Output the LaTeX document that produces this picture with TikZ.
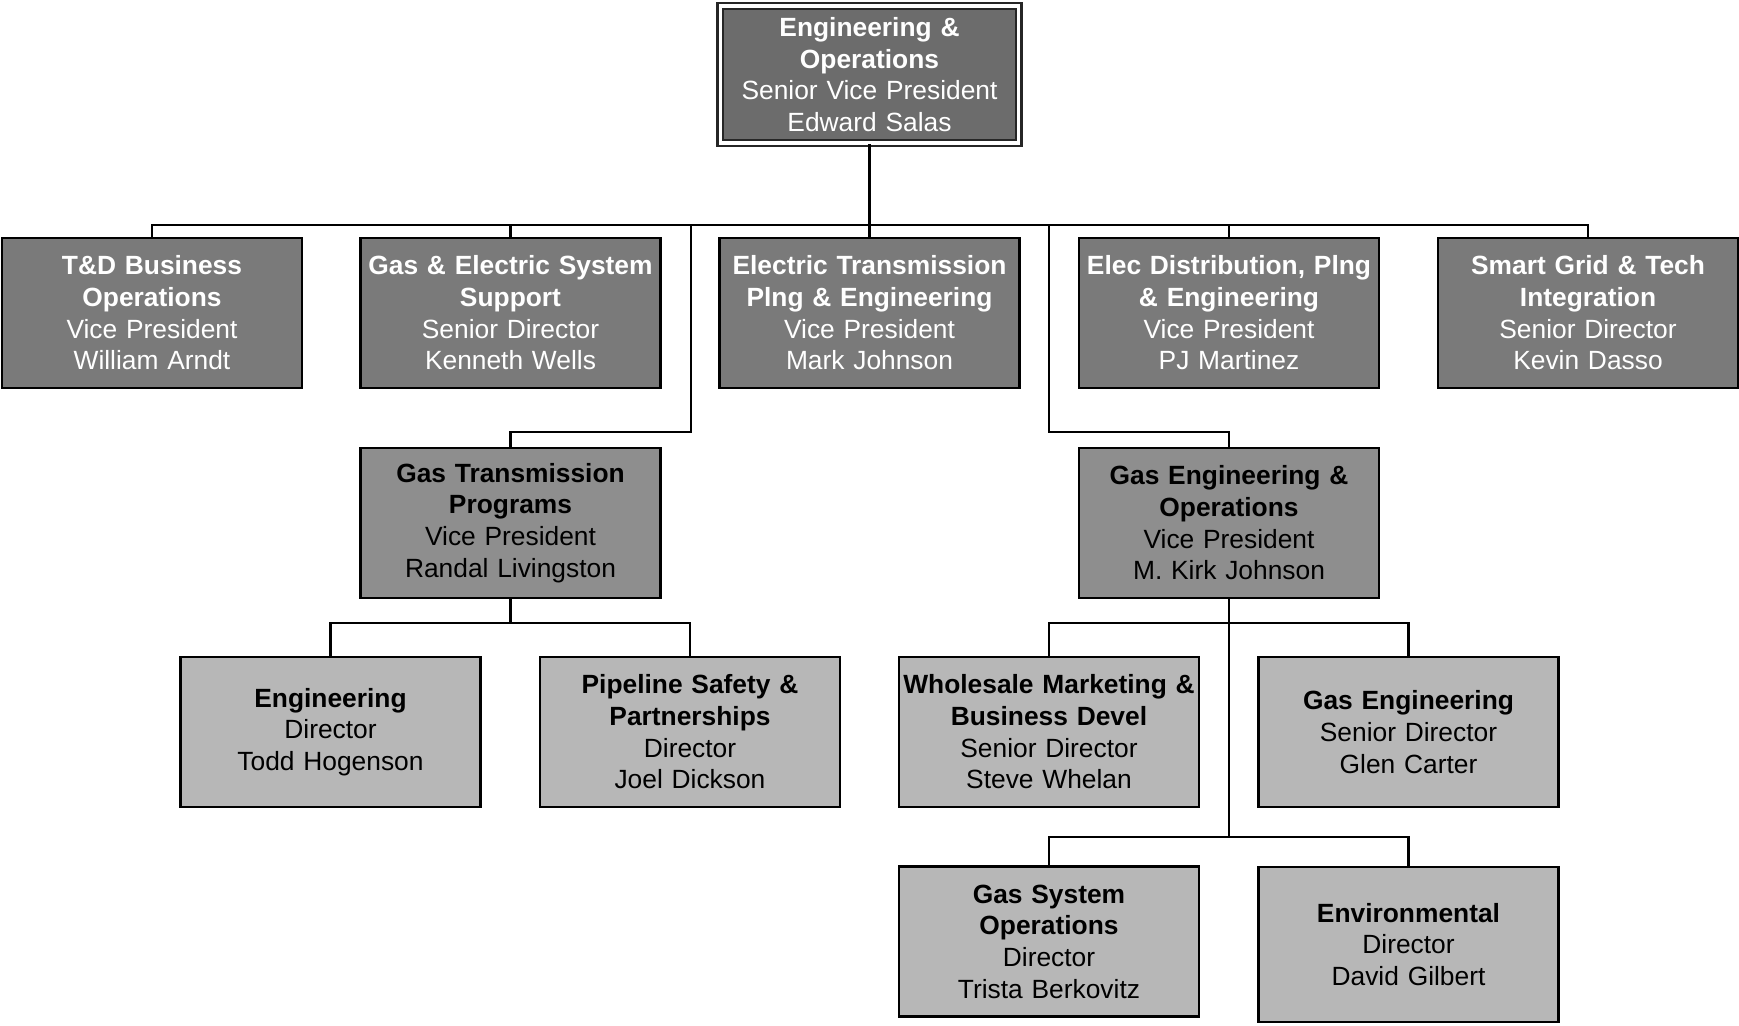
\documentclass[tikz,border=0pt]{standalone}
\usepackage{fontspec}
\setmainfont{Liberation Sans}
\usepackage{xcolor}
\usepackage{tikz}
\definecolor{grisfonce}{HTML}{6C6C6C}
\definecolor{grismoyen}{HTML}{7A7A7A}
\definecolor{grisclair}{HTML}{8E8E8E}
\definecolor{grispale}{HTML}{B7B7B7}
\tikzstyle{poste} = [rectangle,
minimum width=6cm,
minimum height=3cm,
text width=5.9cm,
inner sep=1pt,
align=center,
font=\fontsize{15}{18}\selectfont,
line width=1.2pt,
draw=black]
\tikzstyle{chef} = [poste, fill=grisfonce, text=white, draw=gray!30!black,
double=white, double distance=2pt, minimum width=5.75cm, minimum height=2.75cm]
\tikzstyle{vp} = [poste, fill=grismoyen, text=white]
\tikzstyle{vpbis} = [poste, fill=grisclair, text=black]
\tikzstyle{dir} = [poste, fill=grispale, text=black]
\tikzstyle{lien} = [line width=1.3pt, draw=black]

\begin{document}
\begin{tikzpicture}[x=0.02cm, y=-0.02cm]
\useasboundingbox (0,0) rectangle (1739,1026);

% Sommet
\node[chef] (eo) at (869.5,74.5) {\textbf{Engineering \&\\Operations}\\Senior Vice President\\Edward Salas};

% Deuxieme niveau
\node[vp] (td) at (152,313) {\textbf{T\&D Business\\Operations}\\Vice President\\William Arndt};
\node[vp] (gess) at (510.5,313) {\textbf{Gas \& Electric System\\Support}\\Senior Director\\Kenneth Wells};
\node[vp] (etpe) at (869.5,313) {\textbf{Electric Transmission\\Plng \& Engineering}\\Vice President\\Mark Johnson};
\node[vp] (edpe) at (1229,313) {\textbf{Elec Distribution, Plng\\\& Engineering}\\Vice President\\PJ Martinez};
\node[vp] (sgti) at (1588,313) {\textbf{Smart Grid \& Tech\\Integration}\\Senior Director\\Kevin Dasso};

% Troisieme niveau
\node[vpbis] (gtp) at (510.5,523) {\textbf{Gas Transmission\\Programs}\\Vice President\\Randal Livingston};
\node[vpbis] (geo) at (1229,523) {\textbf{Gas Engineering \&\\Operations}\\Vice President\\M. Kirk Johnson};

% Directeurs
\node[dir] (eng) at (330.5,732) {\textbf{Engineering}\\Director\\Todd Hogenson};
\node[dir] (pipe) at (690,732) {\textbf{Pipeline Safety \&\\Partnerships}\\Director\\Joel Dickson};
\node[dir] (wmbd) at (1049,732) {\textbf{Wholesale Marketing \&\\Business Devel}\\Senior Director\\Steve Whelan};
\node[dir] (geng) at (1408.5,732) {\textbf{Gas Engineering}\\Senior Director\\Glen Carter};
\node[dir] (gso) at (1049,941.5) {\textbf{Gas System\\Operations}\\Director\\Trista Berkovitz};
\node[dir, minimum height=3.1cm] (env) at (1408.5,944.5) {\textbf{Environmental}\\Director\\David Gilbert};

% Barres horizontales
\coordinate (barre) at (0,225);
\coordinate (coudeg) at (691,432);
\coordinate (couded) at (1049,432);
\coordinate (barreg) at (0,623);
\coordinate (barred) at (0,623);
\coordinate (barrebas) at (0,837);

% Liens du sommet
\draw[lien] (eo.south) -- (eo.south |- barre);
\draw[lien] (td.north) -- (td.north |- barre) -- (sgti.north |- barre) -- (sgti.north);
\draw[lien] (gess.north) -- (gess.north |- barre);
\draw[lien] (etpe.north) -- (etpe.north |- barre);
\draw[lien] (edpe.north) -- (edpe.north |- barre);

% Branches vers le troisieme niveau
\draw[lien] (gtp.north) -- (gtp.north |- coudeg) -- (coudeg) -- (coudeg |- barre);
\draw[lien] (geo.north) -- (geo.north |- couded) -- (couded) -- (couded |- barre);

% Sous Gas Transmission
\draw[lien] (gtp.south) -- (gtp.south |- barreg);
\draw[lien] (eng.north) -- (eng.north |- barreg) -- (pipe.north |- barreg) -- (pipe.north);

% Sous Gas Engineering
\draw[lien] (geo.south) -- (geo.south |- barrebas);
\draw[lien] (wmbd.north) -- (wmbd.north |- barred) -- (geng.north |- barred) -- (geng.north);
\draw[lien] (gso.north) -- (gso.north |- barrebas) -- (env.north |- barrebas) -- (env.north);

\end{tikzpicture}
\end{document}
